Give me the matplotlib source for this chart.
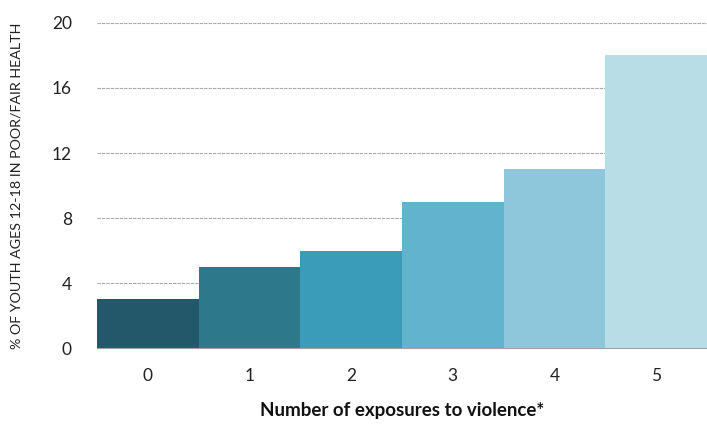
import matplotlib.pyplot as plt

## Datos
exposiciones = ['0', '1', '2', '3', '4', '5']
porcentaje = [3, 5, 6, 9, 11, 18]
colores = ['#22586a', '#2e788c', '#3b9cba', '#62b4ce', '#8ec7db', '#b8dde6']
yticks = [0, 4, 8, 12, 16, 20]

plt.rcParams['font.family'] = ['Lato', 'DejaVu Sans']

fig = plt.figure(figsize=(7.07, 4.25), dpi=100)
ax = fig.add_axes([0.137, 0.181, 0.863, 0.765])

x = range(len(exposiciones))
ax.bar(x, porcentaje, width=1.0, color=colores, zorder=3)

ax.set_xlim(-0.5, 5.5)
ax.set_ylim(0, 20)
ax.set_yticks(yticks)
ax.set_xticks(list(x))
ax.set_xticklabels(exposiciones)

## Lineas de cuadricula discontinuas
ax.yaxis.grid(True, linestyle=(0, (3, 1)), color='#a8a8a8', lw=0.8, zorder=0)
for s in ['top', 'right', 'left']:
    ax.spines[s].set_visible(False)
ax.spines['bottom'].set_color('#a0a0a0')
ax.spines['bottom'].set_zorder(4)

ax.tick_params(axis='both', length=0, labelsize=12.5, colors='#222222')
ax.tick_params(axis='y', pad=18)
ax.tick_params(axis='x', pad=14)

ax.set_ylabel('% OF YOUTH AGES 12-18 IN POOR/FAIR HEALTH', fontsize=10.3, color='#222222')
ax.yaxis.set_label_coords(-0.122, 0.5)
ax.set_xlabel('Number of exposures to violence*', fontsize=13.5, fontweight='bold', color='#111111', labelpad=13)

fig.savefig('out.png', dpi=100)
